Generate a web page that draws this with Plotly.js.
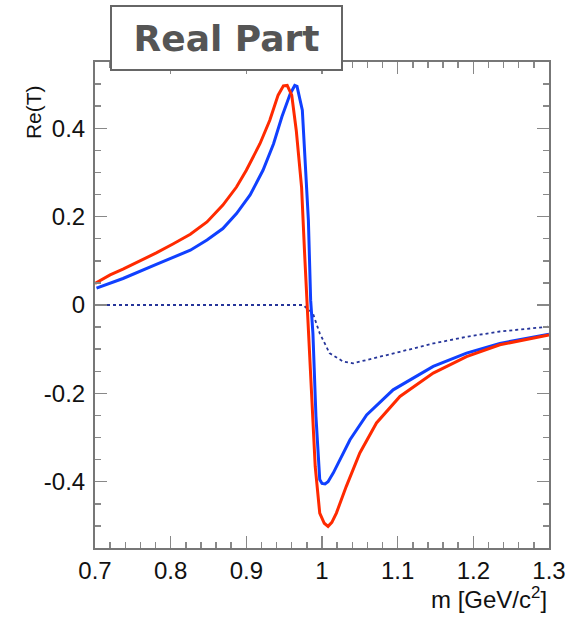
<!DOCTYPE html>
<html>
<head>
<meta charset="utf-8">
<script src="https://cdn.plot.ly/plotly-3.0.1.min.js"></script>
<style>html,body{margin:0;padding:0;background:#fff}#chart{width:569px;height:622px}</style>
</head>
<body>
<div id="chart"></div>
<script>
// Red curve
const redMass = [0.700,0.720,0.737,0.759,0.781,0.803,0.826,0.848,0.869,0.887,0.900,0.918,0.931,0.942,0.949,0.954,0.960,0.966,0.973,0.977,0.980,0.986,0.991,0.997,1.003,1.008,1.013,1.019,1.032,1.050,1.072,1.103,1.147,1.191,1.235,1.300];
const redRe   = [0.049,0.068,0.081,0.099,0.118,0.138,0.160,0.188,0.226,0.267,0.305,0.365,0.418,0.475,0.496,0.497,0.475,0.395,0.267,0.117,0.011,-0.215,-0.365,-0.471,-0.494,-0.501,-0.492,-0.471,-0.411,-0.335,-0.267,-0.207,-0.154,-0.117,-0.090,-0.068];
// Blue curve
const blueMass = [0.702,0.737,0.781,0.826,0.848,0.869,0.887,0.905,0.922,0.936,0.947,0.958,0.964,0.967,0.974,0.977,0.982,0.985,0.988,0.992,0.997,1.000,1.004,1.008,1.015,1.037,1.059,1.094,1.147,1.191,1.235,1.300];
const blueRe   = [0.038,0.060,0.092,0.124,0.147,0.173,0.207,0.249,0.305,0.365,0.426,0.478,0.497,0.495,0.441,0.343,0.192,0.011,-0.064,-0.252,-0.395,-0.404,-0.405,-0.400,-0.380,-0.305,-0.249,-0.192,-0.139,-0.109,-0.087,-0.066];
// Dotted curve
const dotMass = [0.700,0.975,0.988,0.997,1.010,1.028,1.041,1.068,1.103,1.147,1.191,1.235,1.300];
const dotRe   = [0,0,-0.019,-0.064,-0.109,-0.128,-0.132,-0.120,-0.106,-0.087,-0.072,-0.060,-0.049];
const xTickVals = [0.7,0.8,0.9,1.0,1.1,1.2,1.3];
const xTickText = ['0.7','0.8','0.9','1','1.1','1.2','1.3'];
const yTickVals = [-0.4,-0.2,0,0.2,0.4];
const yTickText = ['-0.4','-0.2','0','0.2','0.4'];

const traces = [
  {x: dotMass, y: dotRe, mode: 'lines', line: {color: '#26359a', width: 1.8, dash: 'dot'}, hoverinfo: 'skip'},
  {x: blueMass, y: blueRe, mode: 'lines', line: {color: '#1040ff', width: 3}},
  {x: redMass, y: redRe, mode: 'lines', line: {color: '#ff2a00', width: 3}}
];

const layout = {
  width: 569, height: 622,
  margin: {l: 95, r: 20, t: 62, b: 74},
  paper_bgcolor: '#fff', plot_bgcolor: '#fff',
  showlegend: false,
  font: {family: 'Liberation Sans, Arial, sans-serif', size: 24, color: '#000'},
  xaxis: {
    range: [0.7, 1.3], tickvals: xTickVals, ticktext: xTickText,
    ticks: 'inside', ticklen: 12, tickwidth: 1.5, tickcolor: '#888',
    showline: true, linecolor: '#777', linewidth: 2, mirror: 'allticks',
    showgrid: false, zeroline: false,
    minor: {ticks: 'inside', ticklen: 6, dtick: 0.02, tick0: 0.7, tickcolor: '#888', tickwidth: 1.5, showgrid: false},
    tickfont: {size: 24, color: '#111'},
    title: {text: ''}
  },
  yaxis: {
    range: [-0.55, 0.55], tickvals: yTickVals, ticktext: yTickText,
    ticks: 'inside', ticklen: 12, tickwidth: 1.5, tickcolor: '#888',
    showline: true, linecolor: '#777', linewidth: 2, mirror: 'allticks',
    showgrid: false, zeroline: false, ticklabelstandoff: 3,
    minor: {ticks: 'inside', ticklen: 6, dtick: 0.05, tick0: 0, tickcolor: '#888', tickwidth: 1.5, showgrid: false},
    tickfont: {size: 24, color: '#111'},
    title: {text: ''}
  },
  annotations: [
    {text: '<b>Real Part</b>', xref: 'paper', yref: 'paper', x: 0.2896, y: 1.049,
     xanchor: 'center', yanchor: 'middle', showarrow: false,
     font: {family: 'DejaVu Sans', size: 36, color: '#555'},
     bgcolor: '#fff', bordercolor: '#666', borderwidth: 2, borderpad: 1, width: 227, height: 60},
    {text: 'Re(T)', xref: 'paper', yref: 'paper', x: -0.1366, y: 0.897, xanchor: 'center', yanchor: 'middle',
     textangle: -90, showarrow: false, font: {size: 21, color: '#111'}},
    {text: 'm [GeV/c<sup>2</sup>]', xref: 'paper', yref: 'paper', x: 1.0, y: -0.103, xanchor: 'right', yanchor: 'middle',
     showarrow: false, font: {size: 24, color: '#111'}}
  ]
};
Plotly.newPlot('chart', traces, layout, {displayModeBar: false, staticPlot: true});
</script>
</body>
</html>
